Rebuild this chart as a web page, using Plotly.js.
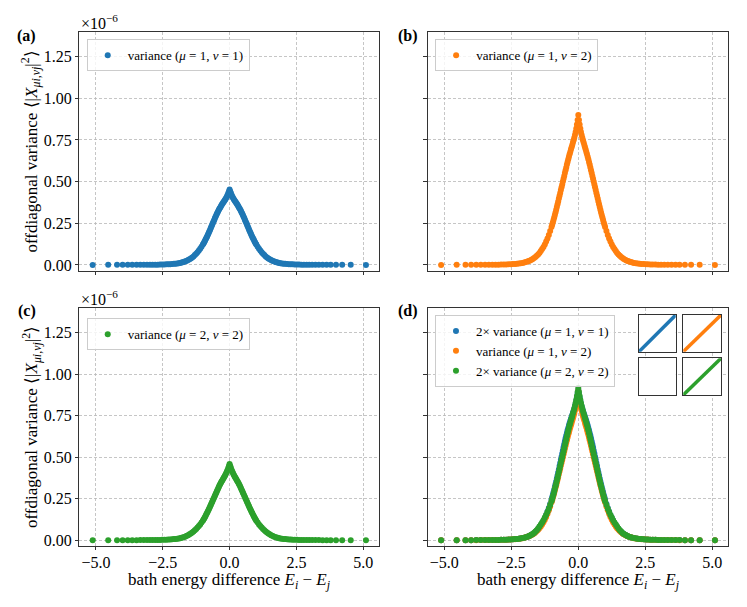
<!DOCTYPE html>
<html>
<head>
<meta charset="utf-8">
<script src="https://cdn.plot.ly/plotly-3.0.1.min.js"></script>
<style>
  body { margin: 0; background: #fff; }
  #graph { width: 747px; height: 607px; }
</style>
</head>
<body>
<div id="graph"></div>
<script>
// bath energy difference E_i - E_j (shared by every panel)
var energyDiff = [
  -5.12, -4.54, -4.21, -4.0, -3.81, -3.64, -3.48, -3.34, -3.21, -3.09, -2.98, -2.88, -2.78, -2.69,
  -2.6, -2.52, -2.44, -2.36, -2.29, -2.22, -2.15, -2.08, -2.02, -1.96, -1.9, -1.85, -1.8, -1.75,
  -1.7, -1.65, -1.6, -1.55, -1.5, -1.45, -1.4, -1.35, -1.3, -1.25, -1.2, -1.15, -1.1, -1.05,
  -1.0, -0.975, -0.95, -0.925, -0.9, -0.875, -0.85, -0.825, -0.8, -0.775, -0.75, -0.725, -0.7, -0.675,
  -0.65, -0.625, -0.6, -0.575, -0.55, -0.525, -0.5, -0.475, -0.45, -0.425, -0.4, -0.375, -0.35, -0.325,
  -0.3, -0.275, -0.25, -0.225, -0.2, -0.175, -0.15, -0.125, -0.1, -0.075, -0.05, -0.025,
  0.0,
  0.025, 0.05, 0.075, 0.1, 0.125, 0.15, 0.175, 0.2, 0.225, 0.25, 0.275, 0.3, 0.325, 0.35,
  0.375, 0.4, 0.425, 0.45, 0.475, 0.5, 0.525, 0.55, 0.575, 0.6, 0.625, 0.65, 0.675, 0.7,
  0.725, 0.75, 0.775, 0.8, 0.825, 0.85, 0.875, 0.9, 0.925, 0.95, 0.975, 1.0,
  1.05, 1.1, 1.15, 1.2, 1.25, 1.3, 1.35, 1.4, 1.45, 1.5, 1.55, 1.6, 1.65, 1.7,
  1.75, 1.8, 1.85, 1.9, 1.96, 2.02, 2.08, 2.15, 2.22, 2.29, 2.36, 2.44, 2.52, 2.6,
  2.69, 2.78, 2.88, 2.98, 3.09, 3.21, 3.34, 3.48, 3.63, 3.78, 3.98, 4.21, 4.53, 5.1
];

// offdiagonal variance, in units of 1e-6
var variance11 = [
  0.0, 0.0001, 0.0001, 0.0001, 0.0002, 0.0002, 0.0003, 0.0004, 0.0005, 0.0006, 0.0008, 0.001, 0.0012, 0.0015,
  0.0018, 0.0022, 0.0027, 0.0032, 0.0038, 0.0045, 0.0055, 0.0065, 0.0075, 0.009, 0.010, 0.012, 0.014, 0.016,
  0.019, 0.022, 0.025, 0.029, 0.034, 0.039, 0.045, 0.051, 0.059, 0.067, 0.076, 0.086, 0.097, 0.109,
  0.122, 0.129, 0.136, 0.144, 0.152, 0.160, 0.168, 0.177, 0.186, 0.195, 0.204, 0.213, 0.223, 0.232,
  0.242, 0.251, 0.261, 0.270, 0.280, 0.289, 0.298, 0.307, 0.315, 0.323, 0.331, 0.338, 0.345, 0.352,
  0.359, 0.365, 0.371, 0.377, 0.383, 0.389, 0.396, 0.403, 0.411, 0.420, 0.430, 0.441,
  0.452,
  0.441, 0.430, 0.420, 0.411, 0.403, 0.396, 0.389, 0.383, 0.377, 0.371, 0.365, 0.359, 0.352, 0.345,
  0.338, 0.331, 0.323, 0.315, 0.307, 0.298, 0.289, 0.280, 0.270, 0.261, 0.251, 0.242, 0.232, 0.223,
  0.213, 0.204, 0.195, 0.186, 0.177, 0.168, 0.160, 0.152, 0.144, 0.136, 0.129, 0.122,
  0.109, 0.097, 0.086, 0.076, 0.067, 0.059, 0.051, 0.045, 0.039, 0.034, 0.029, 0.025, 0.022, 0.019,
  0.016, 0.014, 0.012, 0.010, 0.009, 0.0075, 0.0065, 0.0055, 0.0045, 0.0038, 0.0032, 0.0027, 0.0022, 0.0018,
  0.0015, 0.0012, 0.001, 0.0008, 0.0006, 0.0005, 0.0004, 0.0003, 0.0002, 0.0002, 0.0001, 0.0001, 0.0001, 0.0
];

var variance12 = [
  0.0, 0.0001, 0.0001, 0.0002, 0.0003, 0.0004, 0.0005, 0.0007, 0.0009, 0.0012, 0.0015, 0.0019, 0.0023, 0.0029,
  0.0035, 0.0042, 0.005, 0.006, 0.0072, 0.0085, 0.010, 0.012, 0.014, 0.017, 0.020, 0.023, 0.027, 0.031,
  0.036, 0.041, 0.048, 0.055, 0.063, 0.072, 0.083, 0.095, 0.108, 0.123, 0.140, 0.159, 0.180, 0.203,
  0.228, 0.241, 0.255, 0.269, 0.284, 0.299, 0.315, 0.331, 0.347, 0.364, 0.381, 0.398, 0.415, 0.432,
  0.449, 0.466, 0.483, 0.500, 0.517, 0.534, 0.551, 0.568, 0.585, 0.602, 0.618, 0.634, 0.649, 0.664,
  0.678, 0.692, 0.706, 0.720, 0.734, 0.748, 0.763, 0.780, 0.798, 0.818, 0.842, 0.870,
  0.900,
  0.870, 0.842, 0.818, 0.798, 0.780, 0.763, 0.748, 0.734, 0.720, 0.706, 0.692, 0.678, 0.664, 0.649,
  0.634, 0.618, 0.602, 0.585, 0.568, 0.551, 0.534, 0.517, 0.500, 0.483, 0.466, 0.449, 0.432, 0.415,
  0.398, 0.381, 0.364, 0.347, 0.331, 0.315, 0.299, 0.284, 0.269, 0.255, 0.241, 0.228,
  0.203, 0.180, 0.159, 0.140, 0.123, 0.108, 0.095, 0.083, 0.072, 0.063, 0.055, 0.048, 0.041, 0.036,
  0.031, 0.027, 0.023, 0.020, 0.017, 0.014, 0.012, 0.010, 0.0085, 0.0072, 0.006, 0.005, 0.0042, 0.0035,
  0.0029, 0.0023, 0.0019, 0.0015, 0.0012, 0.0009, 0.0007, 0.0005, 0.0004, 0.0003, 0.0002, 0.0001, 0.0001, 0.0
];

var variance22 = [
  0.0, 0.0001, 0.0001, 0.0001, 0.0002, 0.0002, 0.0003, 0.0004, 0.0005, 0.0006, 0.0008, 0.001, 0.0012, 0.0015,
  0.0018, 0.0022, 0.0027, 0.0032, 0.0038, 0.0045, 0.0054, 0.0064, 0.0075, 0.009, 0.0105, 0.012, 0.014, 0.016,
  0.019, 0.022, 0.026, 0.030, 0.035, 0.041, 0.047, 0.053, 0.060, 0.068, 0.076, 0.085, 0.095, 0.106,
  0.117, 0.124, 0.131, 0.138, 0.146, 0.154, 0.162, 0.170, 0.179, 0.187, 0.196, 0.205, 0.214, 0.223,
  0.232, 0.241, 0.250, 0.259, 0.268, 0.277, 0.286, 0.295, 0.304, 0.313, 0.322, 0.330, 0.338, 0.346,
  0.353, 0.360, 0.367, 0.374, 0.381, 0.388, 0.396, 0.404, 0.413, 0.423, 0.434, 0.446,
  0.458,
  0.446, 0.434, 0.423, 0.413, 0.404, 0.396, 0.388, 0.381, 0.374, 0.367, 0.360, 0.353, 0.346, 0.338,
  0.330, 0.322, 0.313, 0.304, 0.295, 0.286, 0.277, 0.268, 0.259, 0.250, 0.241, 0.232, 0.223, 0.214,
  0.205, 0.196, 0.187, 0.179, 0.170, 0.162, 0.154, 0.146, 0.138, 0.131, 0.124, 0.117,
  0.106, 0.095, 0.085, 0.076, 0.068, 0.060, 0.053, 0.047, 0.041, 0.035, 0.030, 0.026, 0.022, 0.019,
  0.016, 0.014, 0.012, 0.0105, 0.009, 0.0075, 0.0064, 0.0054, 0.0045, 0.0038, 0.0032, 0.0027, 0.0022, 0.0018,
  0.0015, 0.0012, 0.001, 0.0008, 0.0006, 0.0005, 0.0004, 0.0003, 0.0002, 0.0002, 0.0001, 0.0001, 0.0001, 0.0
];

var xTicks = [-5, -2.5, 0, 2.5, 5];
var yTicks = [0, 0.25, 0.5, 0.75, 1.0, 1.25];
var panelLabels = ['(a)', '(b)', '(c)', '(d)'];

// the little diagonal icons in panel (d)
var diagX = [0, 1];
var diagY = [0, 1];

var blue = '#1f77b4', orange = '#ff7f0e', green = '#2ca02c';
var serif = "'Liberation Serif', 'Times New Roman', serif";

var twice11 = variance11.map(function (v) { return 2 * v; });
var twice22 = variance22.map(function (v) { return 2 * v; });

function dots(y, color, name, xa, ya, legend) {
  return {
    x: energyDiff, y: y, type: 'scatter', mode: 'markers',
    name: name, xaxis: xa, yaxis: ya, legend: legend,
    marker: {color: color, size: 6, line: {width: 0}},
    hoverinfo: 'skip'
  };
}

function diag(color, xa, ya) {
  return {
    x: diagX, y: diagY, type: 'scatter', mode: 'lines', xaxis: xa, yaxis: ya,
    line: {color: color, width: 3.5}, showlegend: false, hoverinfo: 'skip'
  };
}

var data = [
  dots(variance11, blue, 'variance (<i>μ</i> = 1, <i>ν</i> = 1)', 'x', 'y', 'legend'),
  dots(variance12, orange, 'variance (<i>μ</i> = 1, <i>ν</i> = 2)', 'x2', 'y2', 'legend2'),
  dots(variance22, green, 'variance (<i>μ</i> = 2, <i>ν</i> = 2)', 'x3', 'y3', 'legend3'),
  dots(twice11, blue, '2× variance (<i>μ</i> = 1, <i>ν</i> = 1)', 'x4', 'y4', 'legend4'),
  dots(variance12, orange, 'variance (<i>μ</i> = 1, <i>ν</i> = 2)', 'x4', 'y4', 'legend4'),
  dots(twice22, green, '2× variance (<i>μ</i> = 2, <i>ν</i> = 2)', 'x4', 'y4', 'legend4'),
  diag(blue, 'x5', 'y5'),
  diag(orange, 'x6', 'y6'),
  {x: [], y: [], type: 'scatter', mode: 'lines', xaxis: 'x7', yaxis: 'y7', showlegend: false},
  diag(green, 'x8', 'y8')
];

var colL = [0.1062, 0.5078], colR = [0.5726, 0.975];
var rowT = [0.554, 0.9468], rowB = [0.1005, 0.4921];

function xAxis(domain, anchor, labels) {
  return {
    domain: domain, anchor: anchor, range: [-5.62, 5.6],
    tickvals: xTicks, tickformat: '.1f', showticklabels: labels,
    ticks: 'outside', ticklen: 3.5, tickwidth: 1, tickcolor: '#333',
    ticklabelstandoff: -2,
    showline: true, mirror: true, linecolor: '#333', linewidth: 1,
    showgrid: true, gridcolor: '#b8b8b8', gridwidth: 0.8, griddash: '3px,2px',
    zeroline: false, tickfont: {family: serif, size: 16, color: '#000'}
  };
}

function yAxis(domain, anchor, labels) {
  return {
    domain: domain, anchor: anchor, range: [-0.035, 1.396],
    tickvals: yTicks, tickformat: '.2f', showticklabels: labels,
    ticks: 'outside', ticklen: 3.5, tickwidth: 1, tickcolor: '#333',
    showline: true, mirror: true, linecolor: '#333', linewidth: 1,
    showgrid: true, gridcolor: '#b8b8b8', gridwidth: 0.8, griddash: '3px,2px',
    zeroline: false, tickfont: {family: serif, size: 16, color: '#000'}
  };
}

function iconAxis(domain, anchor) {
  return {
    domain: domain, anchor: anchor, range: [0, 1],
    showline: true, mirror: true, linecolor: '#333', linewidth: 1,
    showgrid: false, zeroline: false, showticklabels: false, ticks: ''
  };
}

function legendBox(x, y) {
  return {
    x: x, y: y, xanchor: 'left', yanchor: 'top',
    bgcolor: 'rgba(255,255,255,0.8)', bordercolor: '#cccccc', borderwidth: 1,
    font: {family: serif, size: 13, color: '#000'}
  };
}

var yTitle = 'offdiagonal variance ⟨|<i>X</i><sub><i>μi</i>,<i>νj</i></sub>|<sup>2</sup>⟩';
var xTitle = 'bath energy difference <i>E<sub>i</sub></i> − <i>E<sub>j</sub></i>';

function note(text, x, y, extra) {
  var a = {
    text: text, x: x, y: y, xref: 'paper', yref: 'paper', showarrow: false,
    xanchor: 'center', yanchor: 'middle',
    font: {family: serif, size: 16, color: '#000'}
  };
  for (var k in extra) a[k] = extra[k];
  return a;
}

var titleFont = {family: serif, size: 17, color: '#000'};

var annotations = [
  note('<b>' + panelLabels[0] + '</b>', 0.0357, 0.9407),
  note('<b>' + panelLabels[1] + '</b>', 0.5468, 0.9407),
  note('<b>' + panelLabels[2] + '</b>', 0.0357, 0.4876),
  note('<b>' + panelLabels[3] + '</b>', 0.5468, 0.4876),
  note('×10<sup>−6</sup>', colL[0], rowT[1], {xanchor: 'left', yanchor: 'bottom', yshift: -2}),
  note('×10<sup>−6</sup>', colL[0], rowB[1], {xanchor: 'left', yanchor: 'bottom', yshift: -2}),
  note(yTitle, 0.0415, 0.7504, {textangle: -90, font: titleFont}),
  note(yTitle, 0.0415, 0.2965, {textangle: -90, font: titleFont}),
  note(xTitle, 0.307, 0.0435, {font: titleFont}),
  note(xTitle, 0.7738, 0.0435, {font: titleFont})
];

var layout = {
  width: 747, height: 607,
  margin: {l: 0, r: 0, t: 0, b: 0},
  paper_bgcolor: '#fff', plot_bgcolor: '#fff',
  font: {family: serif, color: '#000'},
  xaxis: xAxis(colL, 'y', false), yaxis: yAxis(rowT, 'x', true),
  xaxis2: xAxis(colR, 'y2', false), yaxis2: yAxis(rowT, 'x2', false),
  xaxis3: xAxis(colL, 'y3', true), yaxis3: yAxis(rowB, 'x3', true),
  xaxis4: xAxis(colR, 'y4', true), yaxis4: yAxis(rowB, 'x4', false),
  xaxis5: iconAxis([0.8554, 0.9046], 'y5'), yaxis5: iconAxis([0.4206, 0.4811], 'x5'),
  xaxis6: iconAxis([0.9147, 0.9652], 'y6'), yaxis6: iconAxis([0.4206, 0.4811], 'x6'),
  xaxis7: iconAxis([0.8554, 0.9046], 'y7'), yaxis7: iconAxis([0.3493, 0.4097], 'x7'),
  xaxis8: iconAxis([0.9147, 0.9652], 'y8'), yaxis8: iconAxis([0.3493, 0.4097], 'x8'),
  legend: legendBox(0.1161, 0.9353),
  legend2: legendBox(0.5825, 0.9353),
  legend3: legendBox(0.1161, 0.4756),
  legend4: legendBox(0.5823, 0.4811),
  annotations: annotations,
  showlegend: true
};

Plotly.newPlot('graph', data, layout, {displayModeBar: false, staticPlot: true});
</script>
</body>
</html>
